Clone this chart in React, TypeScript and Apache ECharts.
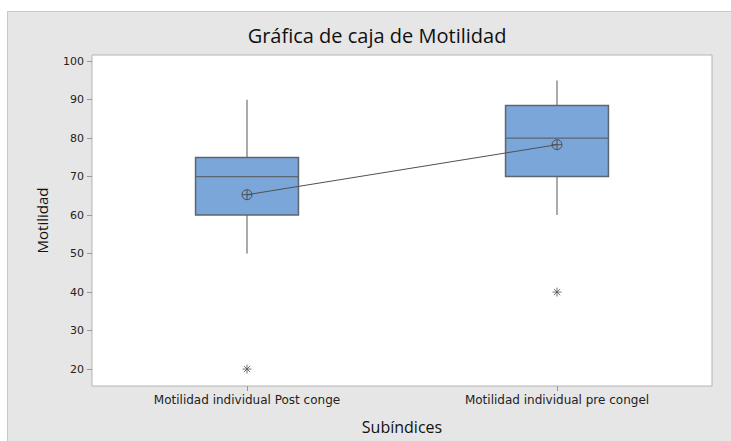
import React, { useEffect, useRef } from "react";
import * as echarts from "echarts";

const categories = ["Motilidad individual Post conge", "Motilidad individual pre congel"];
const whiskerLow = [50, 60];
const quartile1 = [60, 70];
const medians = [70, 80];
const quartile3 = [75, 88.5];
const whiskerHigh = [90, 95];
const means = [65.3, 78.3];
const outliers: [number, number][] = [
  [0, 20],
  [1, 40],
];
const yTicks = [20, 30, 40, 50, 60, 70, 80, 90, 100];

const FONT = "'Open Sans', 'Noto Sans', sans-serif";
const TICKFONT = "'DejaVu Sans', sans-serif";

export default function App() {
  const ref = useRef<HTMLDivElement>(null);
  useEffect(() => {
    document.body.style.margin = "0";
    const chart = echarts.init(ref.current!, undefined, { renderer: "svg" });
    const boxData = categories.map((_, i) => [
      i,
      whiskerLow[i],
      quartile1[i],
      medians[i],
      quartile3[i],
      whiskerHigh[i],
    ]);
    chart.setOption({
      animation: false,
      backgroundColor: "transparent",
      graphic: [
        {
          type: "text",
          x: 377,
          y: 35,
          style: {
            text: "Gráfica de caja de Motilidad",
            font: `20px ${FONT}`,
            fill: "#111",
            textAlign: "center",
            textVerticalAlign: "middle",
          },
        },
      ],
      grid: {
        left: 92,
        top: 55,
        right: 19,
        bottom: 55,
        show: true,
        backgroundColor: "#ffffff",
        borderColor: "#b4b4b4",
        borderWidth: 1,
      },
      xAxis: {
        type: "category",
        data: categories,
        boundaryGap: true,
        name: "Subíndices",
        nameLocation: "middle",
        nameGap: 33,
        nameTextStyle: { fontFamily: FONT, fontSize: 16, color: "#111" },
        axisLine: { show: false },
        axisTick: { show: true, alignWithLabel: true, length: 5, lineStyle: { color: "#9a9a9a" } },
        axisLabel: { fontFamily: TICKFONT, fontSize: 12, color: "#222", margin: 8 },
        splitLine: { show: false },
      },
      yAxis: {
        type: "value",
        min: 15.6,
        max: 101.6,
        name: "Motilidad",
        nameLocation: "middle",
        nameRotate: 90,
        nameGap: 43,
        nameTextStyle: { fontFamily: FONT, fontSize: 15, color: "#111" },
        axisLine: { show: false },
        axisTick: {
          show: true,
          length: 5,
          customValues: yTicks,
          lineStyle: { color: "#9a9a9a" },
        },
        axisLabel: {
          fontFamily: TICKFONT,
          fontSize: 11,
          color: "#222",
          margin: 8,
          customValues: yTicks,
        },
        splitLine: { show: false },
      },
      series: [
        {
          type: "custom",
          data: boxData,
          encode: { x: 0, y: [1, 2, 3, 4, 5] },
          z: 2,
          renderItem: (params: any, api: any) => {
            const c = api.value(0);
            const x = api.coord([c, 0])[0];
            const yLo = api.coord([c, api.value(1)])[1];
            const yQ1 = api.coord([c, api.value(2)])[1];
            const yMed = api.coord([c, api.value(3)])[1];
            const yQ3 = api.coord([c, api.value(4)])[1];
            const yHi = api.coord([c, api.value(5)])[1];
            const halfW = (api.size([1, 0])[0] * 0.332) / 2;
            const boxStroke = "#5d6570";
            const whiskerStroke = "#8e8e8e";
            return {
              type: "group",
              children: [
                {
                  type: "line",
                  shape: { x1: x, y1: yHi, x2: x, y2: yQ3 },
                  style: { stroke: whiskerStroke, lineWidth: 1.5 },
                },
                {
                  type: "line",
                  shape: { x1: x, y1: yQ1, x2: x, y2: yLo },
                  style: { stroke: whiskerStroke, lineWidth: 1.5 },
                },
                {
                  type: "rect",
                  shape: { x: x - halfW, y: yQ3, width: halfW * 2, height: yQ1 - yQ3 },
                  style: { fill: "#7ba6da", stroke: boxStroke, lineWidth: 1.5 },
                },
                {
                  type: "line",
                  shape: { x1: x - halfW, y1: yMed, x2: x + halfW, y2: yMed },
                  style: { stroke: boxStroke, lineWidth: 1.2 },
                },
              ],
            };
          },
        },
        {
          type: "line",
          data: means,
          z: 3,
          symbol: "path://M0,5 A5,5 0 1 1 10,5 A5,5 0 1 1 0,5 Z M0,5 L10,5 M5,0 L5,10",
          symbolSize: 10,
          symbolKeepAspect: true,
          showSymbol: true,
          lineStyle: { color: "#505050", width: 1 },
          itemStyle: { color: "rgba(0,0,0,0)", borderColor: "#505050", borderWidth: 1 },
          emphasis: { disabled: true },
        },
        {
          type: "scatter",
          data: outliers,
          z: 3,
          symbol: "path://M0,5 L10,5 M5,0 L5,10 M1.5,1.5 L8.5,8.5 M8.5,1.5 L1.5,8.5",
          symbolSize: 9,
          itemStyle: { color: "rgba(0,0,0,0)", borderColor: "#505050", borderWidth: 1 },
          emphasis: { disabled: true },
        },
      ],
    });
    return () => chart.dispose();
  }, []);
  return (
    <div style={{ position: "relative", width: 731, height: 441, background: "#ffffff" }}>
      <div
        style={{
          position: "absolute",
          left: 7,
          top: 11,
          width: 724,
          height: 430,
          background: "#e6e6e6",
          borderTop: "1px solid #c8c8c8",
          borderLeft: "1px solid #c8c8c8",
          boxSizing: "border-box",
        }}
      />
      <div ref={ref} style={{ position: "absolute", left: 0, top: 0, width: 731, height: 441 }} />
    </div>
  );
}
